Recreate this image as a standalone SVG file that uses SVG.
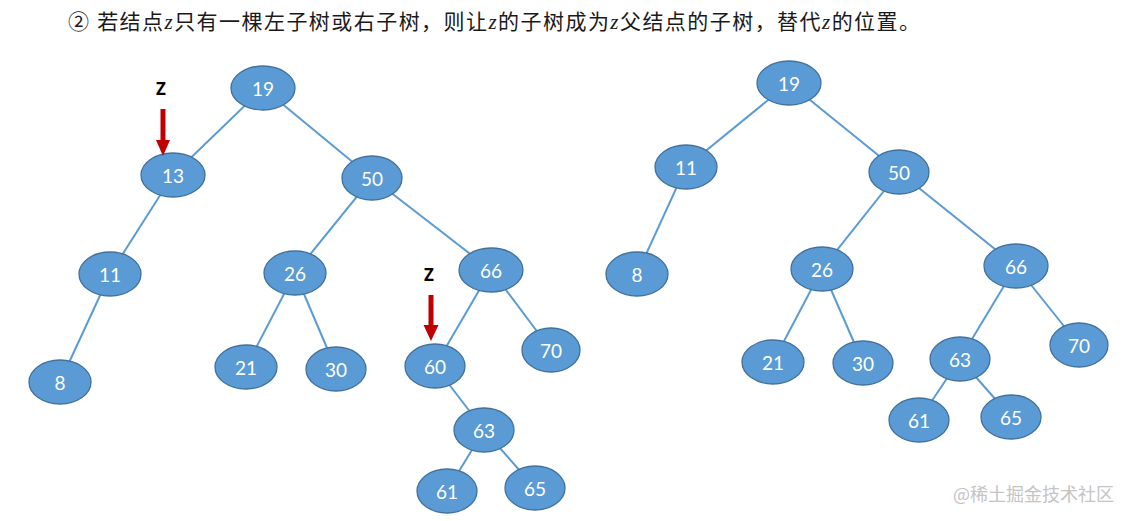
<svg xmlns="http://www.w3.org/2000/svg" width="1132" height="521" viewBox="0 0 1132 521">
<style>
.n ellipse{fill:#5B9BD5;stroke:#41719C;stroke-width:1.3}
.n text{fill:#fff;font-family:Lato,"Open Sans",sans-serif;font-size:19px;text-anchor:middle;dominant-baseline:central}
.e line{stroke:#5B9BD5;stroke-width:2}
.t{font-family:"Liberation Serif","Noto Sans CJK SC",serif;font-size:21px;fill:#1a1a1a}
.z{font-family:"Open Sans","Liberation Sans",sans-serif;font-weight:bold;font-size:17px;fill:#000;text-anchor:middle}
.ar{fill:#C00000}
.wm{font-family:"Noto Sans CJK SC",sans-serif;font-size:18px;fill:#c4c4c4}
</style>
<rect width="1132" height="521" fill="#fff"/>
<text class="t" x="68" y="29" textLength="852" lengthAdjust="spacing">② 若结点<tspan font-style="italic">z</tspan>只有一棵左子树或右子树，则让<tspan font-style="italic">z</tspan>的子树成为<tspan font-style="italic">z</tspan>父结点的子树，替代<tspan font-style="italic">z</tspan>的位置。</text>
<g id="connectors" class="e">
<line x1="263" y1="88" x2="173" y2="175"/>
<line x1="263" y1="88" x2="372" y2="178"/>
<line x1="173" y1="175" x2="110" y2="274"/>
<line x1="110" y1="274" x2="60" y2="382"/>
<line x1="372" y1="178" x2="295" y2="273"/>
<line x1="372" y1="178" x2="491" y2="270"/>
<line x1="295" y1="273" x2="246" y2="367"/>
<line x1="295" y1="273" x2="336" y2="369"/>
<line x1="491" y1="270" x2="435" y2="366"/>
<line x1="491" y1="270" x2="551" y2="350"/>
<line x1="435" y1="366" x2="484" y2="430"/>
<line x1="484" y1="430" x2="447" y2="491"/>
<line x1="484" y1="430" x2="535" y2="488"/>
<line x1="789" y1="83" x2="686" y2="167"/>
<line x1="789" y1="83" x2="899" y2="172"/>
<line x1="686" y1="167" x2="637" y2="274"/>
<line x1="899" y1="172" x2="822" y2="269"/>
<line x1="899" y1="172" x2="1016" y2="266"/>
<line x1="822" y1="269" x2="773" y2="362"/>
<line x1="822" y1="269" x2="863" y2="363"/>
<line x1="1016" y1="266" x2="960" y2="359"/>
<line x1="1016" y1="266" x2="1079" y2="345"/>
<line x1="960" y1="359" x2="919" y2="420"/>
<line x1="960" y1="359" x2="1011" y2="417"/>
</g>
<g id="L19" class="n"><ellipse cx="263" cy="88" rx="32" ry="22"/><text x="263" y="88">19</text></g>
<g id="L13" class="n"><ellipse cx="173" cy="175" rx="32" ry="22"/><text x="173" y="175">13</text></g>
<g id="L50" class="n"><ellipse cx="372" cy="178" rx="30" ry="22"/><text x="372" y="178">50</text></g>
<g id="L11" class="n"><ellipse cx="110" cy="274" rx="31" ry="22"/><text x="110" y="274">11</text></g>
<g id="L26" class="n"><ellipse cx="295" cy="273" rx="31" ry="22"/><text x="295" y="273">26</text></g>
<g id="L66" class="n"><ellipse cx="491" cy="270" rx="32" ry="22"/><text x="491" y="270">66</text></g>
<g id="L8" class="n"><ellipse cx="60" cy="382" rx="31" ry="22"/><text x="60" y="382">8</text></g>
<g id="L21" class="n"><ellipse cx="246" cy="367" rx="31" ry="22"/><text x="246" y="367">21</text></g>
<g id="L30" class="n"><ellipse cx="336" cy="369" rx="30" ry="22"/><text x="336" y="369">30</text></g>
<g id="L60" class="n"><ellipse cx="435" cy="366" rx="30" ry="22"/><text x="435" y="366">60</text></g>
<g id="L70" class="n"><ellipse cx="551" cy="350" rx="29" ry="22"/><text x="551" y="350">70</text></g>
<g id="L63" class="n"><ellipse cx="484" cy="430" rx="30" ry="22"/><text x="484" y="430">63</text></g>
<g id="L61" class="n"><ellipse cx="447" cy="491" rx="30" ry="22"/><text x="447" y="491">61</text></g>
<g id="L65" class="n"><ellipse cx="535" cy="488" rx="30" ry="22"/><text x="535" y="488">65</text></g>
<g id="R19" class="n"><ellipse cx="789" cy="83" rx="32" ry="22"/><text x="789" y="83">19</text></g>
<g id="R11" class="n"><ellipse cx="686" cy="167" rx="31" ry="22"/><text x="686" y="167">11</text></g>
<g id="R50" class="n"><ellipse cx="899" cy="172" rx="30" ry="22"/><text x="899" y="172">50</text></g>
<g id="R8" class="n"><ellipse cx="637" cy="274" rx="31" ry="22"/><text x="637" y="274">8</text></g>
<g id="R26" class="n"><ellipse cx="822" cy="269" rx="31" ry="22"/><text x="822" y="269">26</text></g>
<g id="R66" class="n"><ellipse cx="1016" cy="266" rx="32" ry="22"/><text x="1016" y="266">66</text></g>
<g id="R21" class="n"><ellipse cx="773" cy="362" rx="31" ry="22"/><text x="773" y="362">21</text></g>
<g id="R30" class="n"><ellipse cx="863" cy="363" rx="30" ry="22"/><text x="863" y="363">30</text></g>
<g id="R63" class="n"><ellipse cx="960" cy="359" rx="30" ry="22"/><text x="960" y="359">63</text></g>
<g id="R70" class="n"><ellipse cx="1079" cy="345" rx="29" ry="22"/><text x="1079" y="345">70</text></g>
<g id="R61" class="n"><ellipse cx="919" cy="420" rx="30" ry="22"/><text x="919" y="420">61</text></g>
<g id="R65" class="n"><ellipse cx="1011" cy="417" rx="30" ry="22"/><text x="1011" y="417">65</text></g>
<g id="z1">
<text class="z" x="161" y="95">Z</text>
<rect class="ar" x="160.5" y="109" width="5" height="32"/>
<polygon class="ar" points="156,140 170,140 163,156"/>
</g>
<g id="z2">
<text class="z" x="429" y="281">Z</text>
<rect class="ar" x="428.5" y="295" width="5" height="31"/>
<polygon class="ar" points="423.5,325 438.5,325 431,341"/>
</g>
<text class="wm" x="953" y="501">@稀土掘金技术社区</text>
</svg>
